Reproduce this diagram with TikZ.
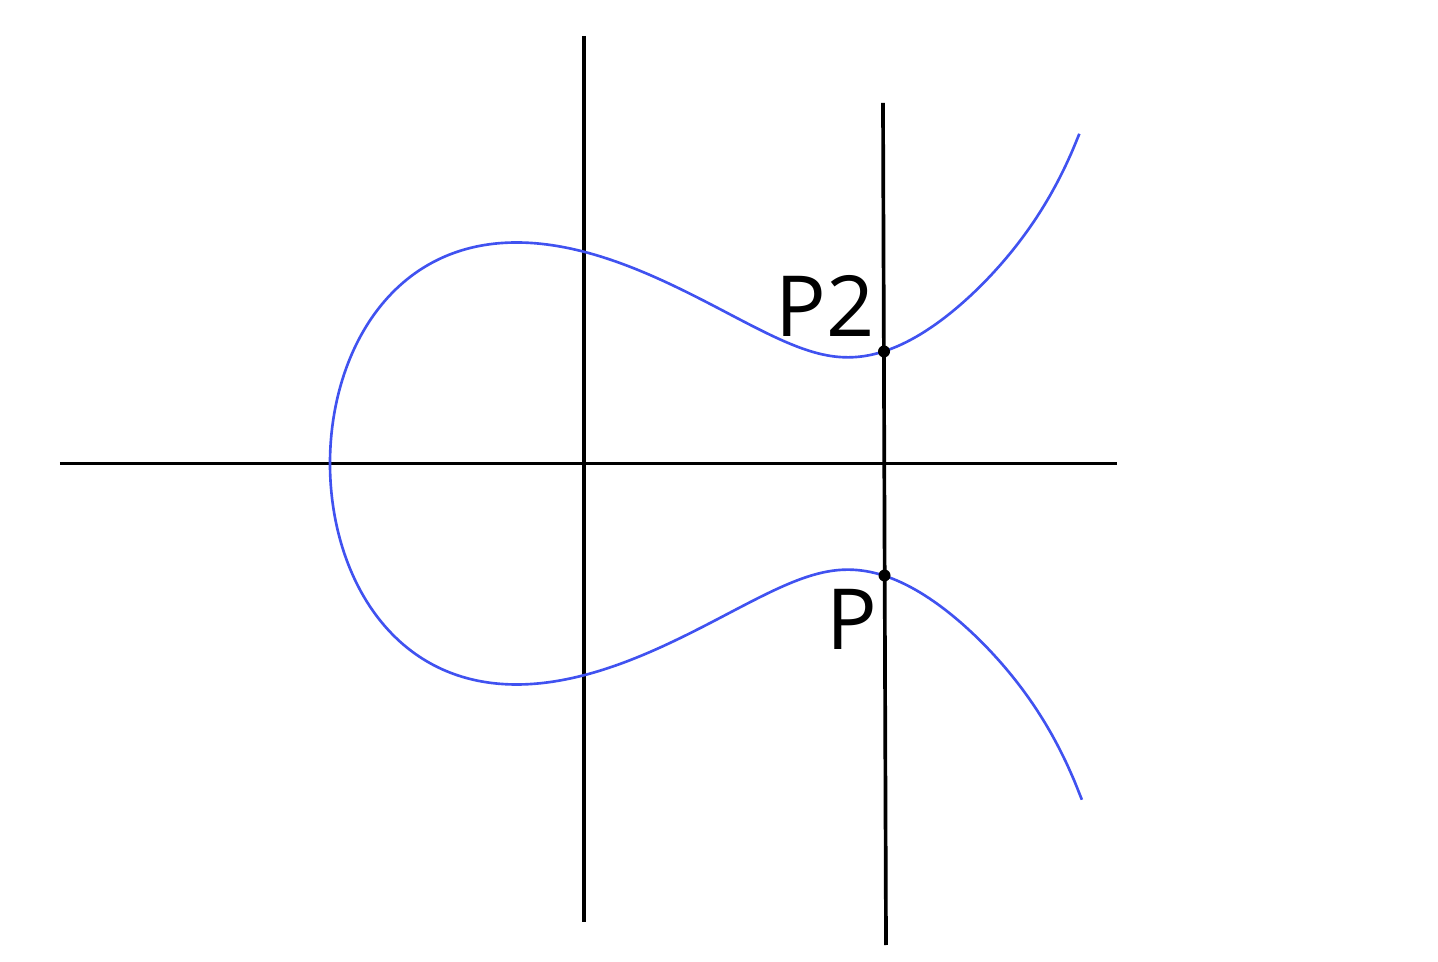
\documentclass[tikz,border=0pt]{standalone}
\usepackage{fontspec}
\setmainfont{Open Sans}
\definecolor{curveblue}{RGB}{64,82,240}
\begin{document}
\begin{tikzpicture}[
  axis/.style={line width=1.05pt, black},
  curve/.style={line width=0.75pt, draw=curveblue},
  dot/.style={circle, fill=black, inner sep=0pt, minimum size=0.12cm},
  lbl/.style={font=\fontsize{24}{28}\selectfont, inner sep=0pt}
]
\useasboundingbox (-5.84,-4.985) rectangle (8.54,4.635);
\coordinate (xl) at (-5.24,0);
\coordinate (xr) at (5.33,0);
\coordinate (yt) at (0,4.275);
\coordinate (yb) at (0,-4.585);
\coordinate (lt) at (2.99,3.605);
\coordinate (lb) at (3.02,-4.815);
\draw[axis] (xl) -- (xr);
\draw[axis] (yt) -- (yb);
\draw[axis] (lt) -- (lb);
\draw[curve] plot[domain=-2.742:2.742, samples=400, variable=\t, smooth]
  ({-2.54+\t*\t},
   {\t*sqrt((0.1875-0.0175*tanh(max(-3,min(3,2*(\t*\t-5.29)))))*(\t*\t-5.29)*(\t*\t-5.29)+0.215+0.446*exp(max(-8,3.17*(\t*\t-7.52))))});
\node[dot] (P2dot) at (3.0,1.12) {};
\node[dot] (Pdot) at (3.005,-1.12) {};
\node[lbl, anchor=base east] (P2) at (2.91,1.265) {P2};
\node[lbl, anchor=base east] (P) at (2.935,-1.865) {P};
\end{tikzpicture}
\end{document}
